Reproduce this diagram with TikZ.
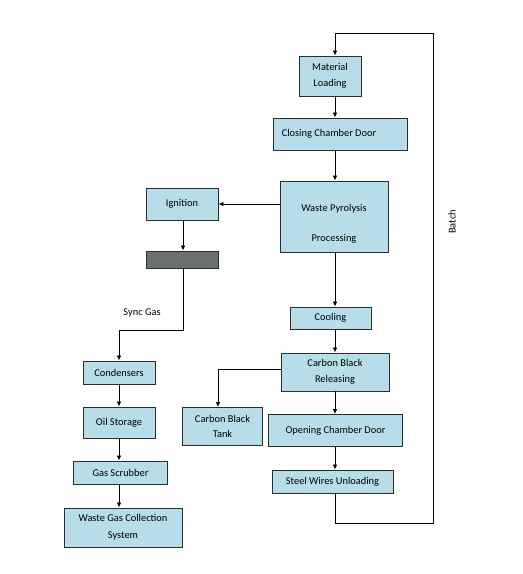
\documentclass[tikz,border=0pt]{standalone}
\usepackage{fontspec}
\setmainfont{Carlito}
\usetikzlibrary{arrows.meta}
\definecolor{boxfill}{RGB}{183,221,232}
\definecolor{boxline}{RGB}{45,45,45}
\definecolor{hidden}{RGB}{105,112,112}

\begin{document}
\begin{tikzpicture}[x=1pt,y=-1pt,font=\fontsize{10.4}{12}\selectfont,
    stage/.style={draw=boxline,line width=0.9pt,fill=boxfill,align=center,
      inner sep=0pt},
    arr/.style={-{Latex[length=5pt,width=4.5pt]},line width=0.8pt}]
  \useasboundingbox (0,0) rectangle (523,574);
  % colonna principale
  \coordinate (spine) at (335,0);
  \node [stage,minimum width=62pt,minimum height=40pt] (mat) at (330,76)
        {Material\\[4pt]Loading};
  \node [stage,minimum width=134pt,minimum height=32pt] (close) at (340,134)
        {Closing Chamber Door\hspace*{22pt}};
  \node [stage,minimum width=108pt,minimum height=71pt] (pyro) at (334,216.5) {};
  \node [align=center] (pyrotext) at ([yshift=-7pt]pyro.center)
        {Waste Pyrolysis\\[18pt]Processing};
  \node [stage,minimum width=81pt,minimum height=22pt] (cool) at (330.5,318)
        {Cooling};
  \node [stage,minimum width=108pt,minimum height=38pt] (cbr) at (335,372)
        {Carbon Black\\[4pt]Releasing};
  \node [stage,minimum width=80pt,minimum height=38pt] (tank) at (222.5,426.5)
        {Carbon Black\\[3pt]Tank};
  \node [stage,minimum width=134pt,minimum height=32pt] (open) at (335.5,430.5)
        {Opening Chamber Door};
  \node [stage,minimum width=121pt,minimum height=23pt] (steel) at (332.5,481.5)
        {Steel Wires Unloading};
  % ramo del gas
  \node [stage,minimum width=72pt,minimum height=32pt] (ign) at (182,204)
        {Ignition};
  \node [stage,fill=hidden,minimum width=72pt,minimum height=17pt] (sep) at (182,259.5) {};
  \node [stage,minimum width=72pt,minimum height=23pt] (cond) at (119,372.5)
        {Condensers};
  \node [stage,minimum width=72pt,minimum height=31pt] (oil) at (119,422.5)
        {Oil Storage};
  \node [stage,minimum width=94pt,minimum height=23pt] (scrub) at (120.5,472.5)
        {Gas Scrubber};
  \node [stage,minimum width=118pt,minimum height=39pt] (wgc) at (123,527.5)
        {Waste Gas Collection\\[5pt]System};
  \coordinate (gasbend) at (183,330);
  \coordinate (loopbot) at (433,523);
  \coordinate (looptop) at (433,33);
  % frecce
  \draw [arr] (mat.south -| spine) -- (close.north -| spine);
  \draw [arr] (close.south -| spine) -- (pyro.north -| spine);
  \draw [arr] (pyro.south -| spine) -- (cool.north -| spine);
  \draw [arr] (cool.south -| spine) -- (cbr.north -| spine);
  \draw [arr] (cbr.south -| spine) -- (open.north -| spine);
  \draw [arr] (open.south -| spine) -- (steel.north -| spine);
  \draw [arr] ([yshift=3pt]cbr.west) -| ([xshift=-4.5pt]tank.north);
  \draw [arr] (pyro.west |- ign) -- (ign.east);
  \draw [arr] (ign.south -| gasbend) -- (sep.north -| gasbend);
  \draw [arr] (sep.south -| gasbend) -- (gasbend) -| (cond.north)
        node [pos=0.32,above=9pt] {Sync Gas};
  \draw [arr] (cond) -- (oil);
  \draw [arr] (oil) -- (scrub.north -| oil);
  \draw [arr] (scrub.south -| oil) -- (wgc.north -| oil);
  % ciclo batch
  \draw [arr] (steel.south -| spine) |- (loopbot) -- (looptop)
        -| (mat.north -| spine);
  \node [rotate=90] (batch) at (452,222) {Batch};
\end{tikzpicture}
\end{document}
